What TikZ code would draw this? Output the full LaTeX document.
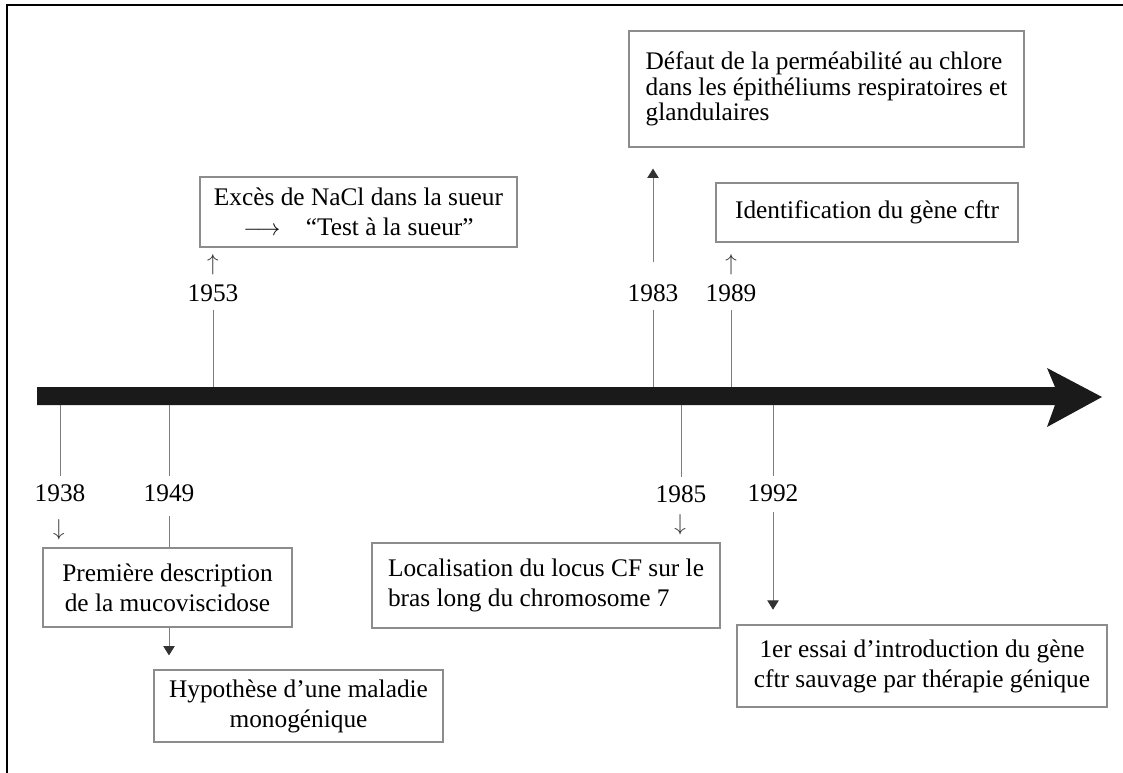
\documentclass[tikz,border=0pt]{standalone}
\usepackage{fontspec}
\setmainfont{Liberation Serif}
\usetikzlibrary{arrows.meta}
\pgfdeclarelayer{background}
\pgfsetlayers{background,main}
\definecolor{barblack}{RGB}{26,26,26}
\definecolor{linegray}{RGB}{125,125,125}
\definecolor{boxgray}{RGB}{140,140,140}
\definecolor{headgray}{RGB}{50,50,50}

\begin{document}
\begin{tikzpicture}[
    x=0.75pt, y=-0.75pt,
    box/.style={rectangle,draw=boxgray,fill=white,line width=0.9pt,align=center,
      inner sep=0pt,font=\fontsize{19}{22.5}\selectfont},
    yearlbl/.style={inner xsep=2pt,inner ysep=6.4pt,font=\fontsize{19}{22.5}\selectfont},
    glyph/.style={inner sep=0pt,text=headgray,font=\fontsize{16}{16}\selectfont},
    tick/.style={draw=linegray,line width=0.75pt},
    evarrow/.style={tick,-{Triangle[length=7pt,width=8.5pt,color=headgray]}}
  ]
    \useasboundingbox (0,0) rectangle (1123,773);
    % frame
    \draw[line width=2.2pt] (7,773) -- (7,5) -- (1123,5);
    % time axis
    \fill[barblack] (37,387) -- (1055,387) -- (1047,368) -- (1102,397)
      -- (1047,427) -- (1055,405) -- (37,405) -- cycle;
    \coordinate (b1953) at (213,387);
    \coordinate (b1983) at (653,387);
    \coordinate (b1989) at (731,387);
    \coordinate (b1938) at (60,405);
    \coordinate (b1949) at (169,405);
    \coordinate (b1985) at (681,405);
    \coordinate (b1992) at (773,405);

    % events
    \node[box,minimum width=237.75pt,minimum height=52.5pt] (sueur) at (358.5,212)
      {Excès de NaCl dans la sueur\\$\longrightarrow$\quad “Test à la sueur”};
    \node[box,align=left,minimum width=296.25pt,minimum height=87pt,
      font=\fontsize{19}{19}\selectfont] (chlore) at (826.5,89)
      {Défaut de la perméabilité au chlore\\dans les épithéliums respiratoires et\\glandulaires};
    \node[box,minimum width=226.5pt,minimum height=44.25pt] (cftr) at (867,212.5)
      {Identification du gène cftr};
    \node[box,minimum width=186.75pt,minimum height=59.25pt] (descr) at (167.5,587.5)
      {Première description\\de la mucoviscidose};
    \node[box,minimum width=216.75pt,minimum height=54pt] (mono) at (298.5,706)
      {Hypothèse d’une maladie\\monogénique};
    \node[box,align=left,minimum width=261pt,minimum height=63.75pt] (locus) at (546,585.5)
      {Localisation du locus CF sur le\\bras long du chromosome 7};
    \node[box,minimum width=277.5pt,minimum height=61.5pt] (essai) at (922,666)
      {1er essai d’introduction du gène\\cftr sauvage par thérapie génique};

    % years
    \node[yearlbl] (y1953) at (213,293) {1953};
    \node[yearlbl] (y1983) at (653,293) {1983};
    \node[yearlbl] (y1989) at (731,293) {1989};
    \node[yearlbl] (y1938) at (60,493) {1938};
    \node[yearlbl] (y1949) at (169,493) {1949};
    \node[yearlbl] (y1985) at (681,494) {1985};
    \node[yearlbl] (y1992) at (773,493) {1992};

    \node[glyph] (u1953) at (213,265) {$\uparrow$};
    \node[glyph] (u1989) at (731,265) {$\uparrow$};
    \node[glyph] (d1938) at (59,530) {$\downarrow$};
    \node[glyph] (d1985) at (680,525) {$\downarrow$};

    \draw[tick] (b1953) -- (y1953);
    \draw[tick] (b1983) -- (y1983);
    \draw[tick] (b1989) -- (y1989);
    \draw[tick] (b1938) -- (y1938);
    \draw[tick] (b1949) -- (y1949);
    \draw[tick] (b1985) -- (y1985);
    \draw[tick] (b1992) -- (y1992);

    \begin{pgfonlayer}{background}
      \draw[evarrow,shorten <=10pt,shorten >=15.75pt] (y1983) -- (y1983 |- chlore.south);
      \draw[evarrow,shorten <=4.5pt,shorten >=10.5pt] (y1949) -- (y1949 |- mono.north);
      \draw[evarrow,shorten <=1.5pt,shorten >=11pt] (y1992) -- (y1992 |- essai.north);
    \end{pgfonlayer}
  \end{tikzpicture}
\end{document}
